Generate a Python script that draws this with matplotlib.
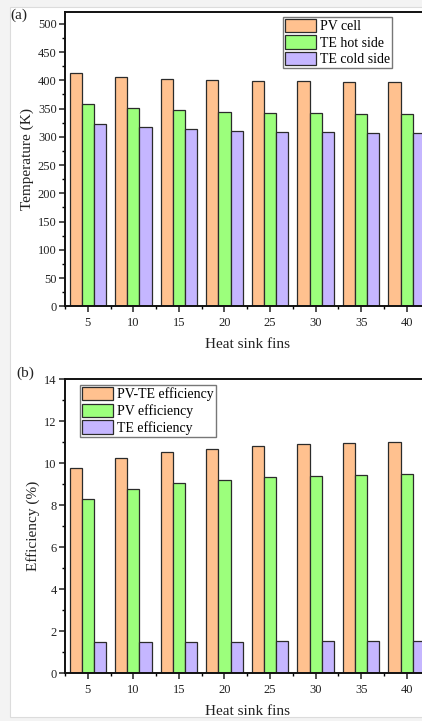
import matplotlib
matplotlib.use("Agg")
import matplotlib.pyplot as plt
from matplotlib.patches import Rectangle
from matplotlib.ticker import MultipleLocator, FixedLocator
import numpy as np

# ---- data ----
fins = [5, 10, 15, 20, 25, 30, 35, 40]
pv_cell = [412.5, 406.5, 403, 400.5, 399.5, 398, 397, 396.5]
te_hot = [357.5, 350.5, 347, 344, 343, 341.5, 341, 340.5]
te_cold = [323, 317, 313.5, 310.5, 309, 308, 307.5, 306.5]
labels_a = ["PV cell", "TE hot side", "TE cold side"]

pvte_eff = [9.75, 10.26, 10.53, 10.69, 10.81, 10.89, 10.96, 11.02]
pv_eff = [8.29, 8.77, 9.04, 9.21, 9.32, 9.40, 9.45, 9.50]
te_eff = [1.49, 1.50, 1.51, 1.51, 1.52, 1.52, 1.52, 1.52]
labels_b = ["PV-TE efficiency", "PV efficiency", "TE efficiency"]

colors = ["#FFC18F", "#9CFF7C", "#C5B6FF"]

plt.rcParams['font.family'] = ['Liberation Serif', 'DejaVu Serif']

W, H = 422, 721
fig = plt.figure(figsize=(W / 100, H / 100), dpi=100)
fig.patch.set_facecolor("#f3f3f3")
fig.patches.append(Rectangle((10 / W, 1 - 717 / H), 1.0, (717 - 7) / H,
                             transform=fig.transFigure, facecolor="white",
                             edgecolor="#dcdcdc", linewidth=0.8, zorder=-10))

def px_axes(left, top, right, bottom):
    return fig.add_axes([left / W, 1 - bottom / H, (right - left) / W, (bottom - top) / H])

ax_a = px_axes(65, 12, 429.5, 306.3)
ax_b = px_axes(65, 379, 429.5, 673.3)

bw = 4 / 3
x = np.array(fins, dtype=float)

def draw(ax, series, labels, ylim, major, minor, ylabel):
    for i, (vals, lab) in enumerate(zip(series, labels)):
        ax.bar(x + (i - 1) * bw, vals, width=bw, color=colors[i], edgecolor="#2b2b2b",
               linewidth=0.9, label=lab, zorder=2)
    ax.set_xlim(2.5, 42.5)
    ax.set_ylim(*ylim)
    ax.set_xticks(fins)
    ax.xaxis.set_minor_locator(FixedLocator(np.arange(2.5, 43, 5)))
    ax.yaxis.set_major_locator(MultipleLocator(major))
    ax.yaxis.set_minor_locator(MultipleLocator(minor))
    ax.tick_params(axis="both", which="major", direction="out", length=4, width=1.1,
                   labelsize=9, colors="#222222")
    ax.tick_params(axis="both", which="minor", direction="out", length=2.2, width=1.0)
    ax.tick_params(axis="x", pad=4)
    ax.tick_params(axis="y", pad=2)
    for s in ax.spines.values():
        s.set_linewidth(1.4)
        s.set_color("#111111")
    ax.set_xlabel("Heat sink fins", fontsize=11, labelpad=6, color="#222222")
    ax.set_ylabel(ylabel, fontsize=11, labelpad=3, color="#222222")

draw(ax_a, [pv_cell, te_hot, te_cold], labels_a, (0, 521), 50, 25, "Temperature (K)")
draw(ax_b, [pvte_eff, pv_eff, te_eff], labels_b, (0, 14), 2, 1, "Efficiency (%)")

leg_kw = dict(fontsize=10, frameon=True, fancybox=False, handlelength=2.2,
              handleheight=1.1, labelspacing=0.16, borderpad=0.15, handletextpad=0.3,
              borderaxespad=0, bbox_transform=fig.transFigure)
la = ax_a.legend(loc="upper right", bbox_to_anchor=(392 / W, 1 - 16.7 / H), **leg_kw)
lb = ax_b.legend(loc="upper left", bbox_to_anchor=(80 / W, 1 - 385 / H), **leg_kw)
for lg in (la, lb):
    lg.get_frame().set_edgecolor("#555555")
    lg.get_frame().set_linewidth(1.0)

fig.text(19 / W, 1 - 15 / H, "(a)", fontsize=11, ha="center", va="center", color="#222222")
fig.text(25 / W, 1 - 373 / H, "(b)", fontsize=11, ha="center", va="center", color="#222222")

fig.savefig("out.png", dpi=100, facecolor=fig.get_facecolor())
